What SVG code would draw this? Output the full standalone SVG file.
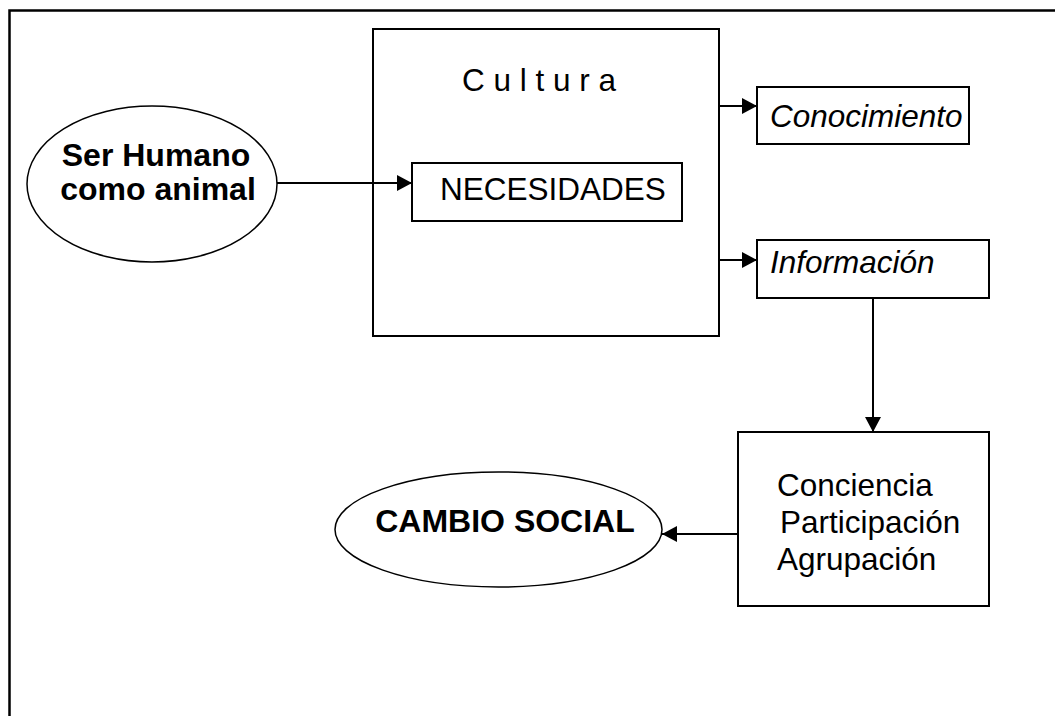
<svg xmlns="http://www.w3.org/2000/svg" width="1055" height="716" viewBox="0 0 1055 716">
<defs>
<style>
.box{fill:#fff;stroke:#000;stroke-width:2}
.ell{fill:#fff;stroke:#000;stroke-width:1.5}
.t{font-family:"Liberation Sans",Arial,sans-serif;font-size:31.5px;fill:#000}
.b{font-weight:bold;font-size:32px}
.i{font-style:italic}
.c{fill:none;stroke:#000;stroke-width:2}
</style>
<marker id="ah" viewBox="0 0 10 10" refX="10" refY="5" markerWidth="15" markerHeight="16" markerUnits="userSpaceOnUse" orient="auto" preserveAspectRatio="none">
<path d="M0,0 L10,5 L0,10 Z" fill="#000"/>
</marker>
</defs>
<rect width="1055" height="716" fill="#fff"/>
<path id="frame" d="M9.5,716 V10.5 H1055" fill="none" stroke="#000" stroke-width="2.5"/>
<g id="ser-humano">
<ellipse class="ell" cx="152" cy="184" rx="125" ry="78"/>
<text class="t b" x="156" y="166" text-anchor="middle">Ser Humano</text>
<text class="t b" x="158" y="200" text-anchor="middle">como animal</text>
</g>
<g id="cultura">
<rect class="box" x="373" y="29" width="346" height="307"/>
<text class="t" x="462" y="91">C u l t u r a</text>
</g>
<g id="necesidades">
<rect class="box" x="412" y="163" width="270" height="58"/>
<text class="t" x="440" y="200">NECESIDADES</text>
</g>
<g id="conocimiento">
<rect class="box" x="757" y="87" width="212" height="57"/>
<text class="t i" x="770" y="127">Conocimiento</text>
</g>
<g id="informacion">
<rect class="box" x="757" y="240" width="232" height="58"/>
<text class="t i" x="770" y="273">Información</text>
</g>
<g id="conciencia">
<rect class="box" x="738" y="432" width="251" height="174"/>
<text class="t" x="777" y="496">Conciencia</text>
<text class="t" x="780" y="533">Participación</text>
<text class="t" x="777" y="570">Agrupación</text>
</g>
<g id="cambio-social">
<ellipse class="ell" cx="498.5" cy="529.5" rx="163.5" ry="57.5"/>
<text class="t b" x="505" y="532" text-anchor="middle">CAMBIO SOCIAL</text>
</g>
<g id="connectors">
<line class="c" x1="277" y1="183" x2="412" y2="183" marker-end="url(#ah)"/>
<line class="c" x1="719" y1="106" x2="757" y2="106" marker-end="url(#ah)"/>
<line class="c" x1="719" y1="260" x2="757" y2="260" marker-end="url(#ah)"/>
<line class="c" x1="873" y1="298" x2="873" y2="432" marker-end="url(#ah)"/>
<line class="c" x1="738" y1="534" x2="662" y2="534" marker-end="url(#ah)"/>
</g>
</svg>
